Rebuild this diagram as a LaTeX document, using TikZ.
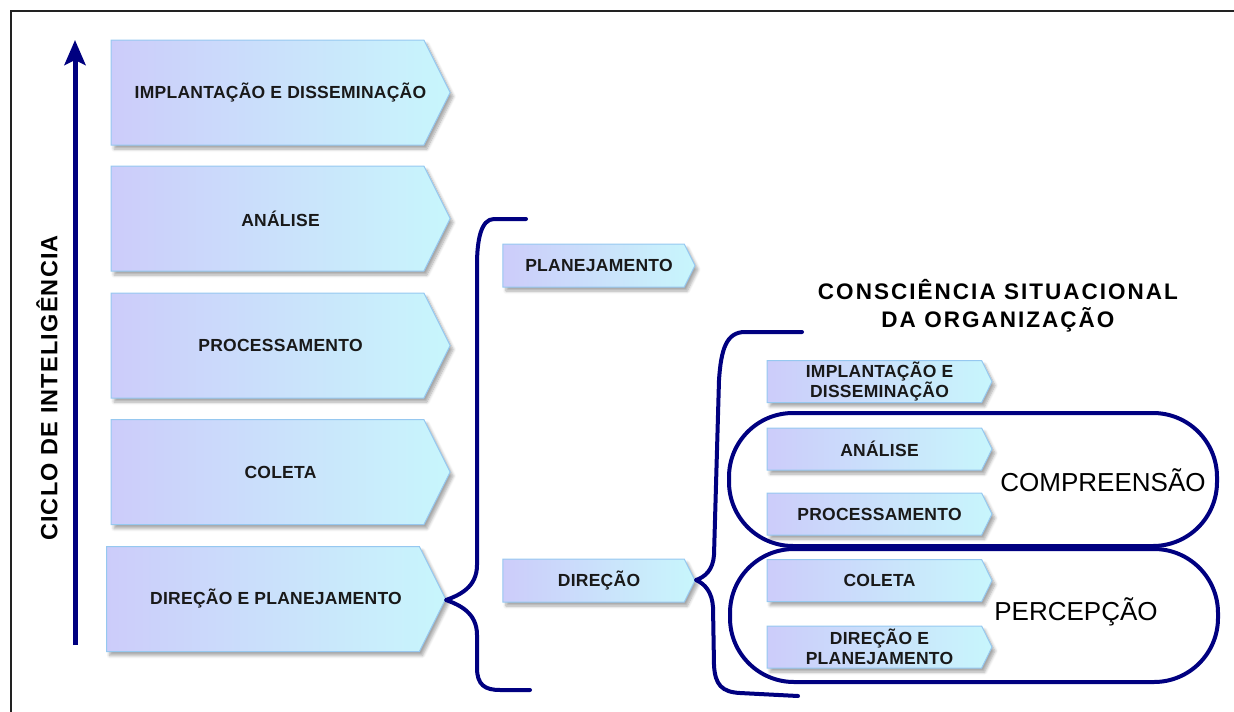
\documentclass[tikz,border=0pt]{standalone}
\usepackage{fontspec}
\setmainfont{Liberation Sans}
\newfontfamily\boxfont{Liberation Sans}[LetterSpace=1.5]
\newfontfamily\cyclefont{Liberation Sans}[LetterSpace=5]
\newfontfamily\titlefont{Liberation Sans}[LetterSpace=9]
\usetikzlibrary{shapes.symbols,shadows,shadows.blur,arrows.meta}
\definecolor{lav}{RGB}{204,204,250}
\definecolor{cyanl}{RGB}{200,246,252}
\definecolor{boxline}{RGB}{150,200,240}
\definecolor{navy}{RGB}{0,0,128}
\definecolor{frame}{RGB}{34,34,34}
\tikzset{
  chev/.style={shape=signal, signal to=east, signal pointer angle=127,
    draw=boxline, line width=1pt, left color=lav, right color=cyanl,
    blur shadow={shadow xshift=3pt, shadow yshift=-4pt, shadow blur steps=6, shadow blur radius=3pt, shadow opacity=35},
    inner sep=0pt},
  boxtext/.style={font=\boxfont\bfseries\fontsize{17.5}{19.5}\selectfont, align=center, inner sep=0pt, text=black!90},
  bigchev/.style={chev, xshift=-13pt, minimum width=339pt, minimum height=105pt},
  lbig/.style={boxtext, xshift=13pt},
  smallchev/.style={chev, xshift=-5.4pt, minimum width=192pt, minimum height=43pt},
  lsmall/.style={boxtext, xshift=5.4pt},
  rightchev/.style={chev, xshift=-5.2pt, minimum width=225pt, minimum height=42pt},
  lright/.style={boxtext, xshift=5.2pt},
  brace/.style={draw=navy, line width=4pt, line cap=round, line join=round},
  stadium/.style={draw=navy, line width=4pt, rounded corners=64pt, minimum width=488pt, minimum height=133pt, inner sep=0pt},
  bigtext/.style={font=\fontsize{26}{30}\selectfont},
}
\begin{document}
\begin{tikzpicture}[x=1pt,y=-1pt]
\useasboundingbox (0,0) rectangle (1234,712);
% frame
\draw[frame, line width=2pt] (11,712) -- (11,11) -- (1234,11);
% cycle arrow
\coordinate (arB) at (75,645);
\coordinate (arT) at (75,40);
\draw[navy, line width=5pt, -{Stealth[width=21pt,length=25pt,inset=5pt]}] (arB) -- (arT);
\node[rotate=90, font=\cyclefont\bfseries\fontsize{23.5}{26}\selectfont] (ciclo) at (47,388) {CICLO DE INTELIGÊNCIA};
% left big boxes
\node[bigchev, label={[lbig]center:IMPLANTAÇÃO E DISSEMINAÇÃO}] (impl) at (280.5,92.5) {};
\node[bigchev, label={[lbig]center:ANÁLISE}] (anal) at (280.5,218.5) {};
\node[bigchev, label={[lbig]center:PROCESSAMENTO}] (proc) at (280.5,345.5) {};
\node[bigchev, label={[lbig]center:COLETA}] (colet) at (280.5,472) {};
\node[bigchev, label={[lbig]center:DIREÇÃO E PLANEJAMENTO}] (dirp) at (276,599) {};
% middle boxes
\node[smallchev, label={[lsmall]center:PLANEJAMENTO}] (plan) at (599,265.5) {};
\node[smallchev, label={[lsmall]center:DIREÇÃO}] (dire) at (599,580.5) {};
% right side
\node[stadium] (compr) at (973,479.5) {};
\node[stadium] (perc) at (974,615.5) {};
\node[rightchev, label={[lright]center:IMPLANTAÇÃO E\\DISSEMINAÇÃO}] (rimpl) at (879.5,381.5) {};
\node[rightchev, label={[lright]center:ANÁLISE}] (ranal) at (879.5,449) {};
\node[rightchev, label={[lright]center:PROCESSAMENTO}] (rproc) at (879.5,514) {};
\node[rightchev, label={[lright]center:COLETA}] (rcol) at (879.5,580.5) {};
\node[rightchev, label={[lright]center:DIREÇÃO E\\PLANEJAMENTO}] (rdir) at (879.5,647) {};
\node[bigtext] (tcompr) at (1103,480) {COMPREENSÃO};
\node[bigtext] (tperc) at (1076,612) {PERCEPÇÃO};
\node[font=\titlefont\bfseries\fontsize{22.5}{28}\selectfont, align=center] (title) at (998,306) {CONSCIÊNCIA SITUACIONAL\\DA ORGANIZAÇÃO};
% braces
\coordinate (b1t) at (526,219);
\coordinate (b1tip) at (446,600);
\coordinate (b1b) at (530,690);
\draw[brace] (b1t) -- (494,219) .. controls (481,219) and (477,240) .. (477,265) -- (477,565) .. controls (477,587) and (460,595) .. (b1tip) .. controls (460,605) and (477,613) .. (477,635) -- (477,668) .. controls (477,685) and (485,690) .. (500,690) -- (b1b);
\coordinate (b2t) at (802,332);
\coordinate (b2tip) at (696,580);
\coordinate (b2b) at (798,696);
\draw[brace] (b2t) -- (745,332) .. controls (726,332) and (721,350) .. (719,380) -- (714,555) .. controls (713,570) and (705,577) .. (b2tip) .. controls (705,584) and (712,592) .. (713,607) -- (714,665) .. controls (715,685) and (722,692) .. (740,693) -- (b2b);
\end{tikzpicture}
\end{document}
